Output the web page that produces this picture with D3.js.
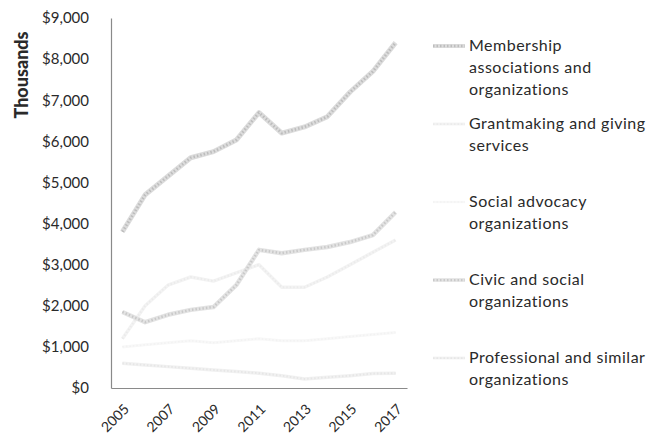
<!DOCTYPE html>
<html>
<head>
<meta charset="utf-8">
<script src="https://cdn.jsdelivr.net/npm/d3@7"></script>
<style>
  html, body { margin: 0; padding: 0; background: #fff; }
  svg { display: block; }
  text { font-family: "Lato", "Open Sans", sans-serif; fill: #2a2a2a; }
</style>
</head>
<body>
<svg id="chart" width="654" height="439"></svg>
<script>
// Revenue by organization type, in thousands of dollars
const years = [2005, 2006, 2007, 2008, 2009, 2010, 2011, 2012, 2013, 2014, 2015, 2016, 2017];
const membership   = [3800, 4700, 5150, 5600, 5750, 6030, 6700, 6200, 6350, 6600, 7200, 7700, 8400];
const grantmaking  = [1200, 2000, 2500, 2700, 2600, 2800, 3000, 2450, 2450, 2700, 3000, 3300, 3600];
const advocacy     = [1000, 1050, 1100, 1150, 1100, 1150, 1200, 1150, 1150, 1200, 1250, 1300, 1350];
const civic        = [1850, 1600, 1780, 1900, 1970, 2500, 3360, 3280, 3360, 3430, 3550, 3720, 4280];
const professional = [600, 560, 520, 480, 440, 400, 360, 300, 220, 260, 300, 350, 360];
const seriesNames = [
  ["Membership", "associations and", "organizations"],
  ["Grantmaking and giving", "services"],
  ["Social advocacy", "organizations"],
  ["Civic and social", "organizations"],
  ["Professional and similar", "organizations"]
];
const yTicks = [0, 1000, 2000, 3000, 4000, 5000, 6000, 7000, 8000, 9000];
const xTicks = [2005, 2007, 2009, 2011, 2013, 2015, 2017];

const series = [
  { values: membership,   base: "#dcdcdc", dots: "#bdbdbd", width: 5,   legendY: 46 },
  { values: grantmaking,  base: "#f3f3f3", dots: "#ebebeb", width: 3.5, legendY: 124 },
  { values: advocacy,     base: "#f8f8f8", dots: "#f2f2f2", width: 3,   legendY: 202 },
  { values: civic,        base: "#e3e3e3", dots: "#c9c9c9", width: 4.5, legendY: 280 },
  { values: professional, base: "#f1f1f1", dots: "#e6e6e6", width: 3.5, legendY: 358 }
];

const svg = d3.select("#chart");
const plot = { left: 111, right: 407, top: 18, bottom: 388 };

const x = d3.scalePoint().domain(years).range([plot.left, plot.right]).padding(0.5);
const y = d3.scaleLinear().domain([0, 9000]).range([plot.bottom, plot.top]);

// Y axis
const yAxis = svg.append("g")
  .attr("transform", `translate(${plot.left},0)`)
  .call(d3.axisLeft(y).tickValues(yTicks).tickSize(0).tickPadding(22)
        .tickFormat(d => "$" + d3.format(",")(d)));
yAxis.select(".domain").attr("stroke", "#8a8a8a").attr("stroke-width", 1.2);
yAxis.selectAll("text").style("font-size", "15px").attr("fill", "#2a2a2a");

// X axis
const xAxis = svg.append("g")
  .attr("transform", `translate(0,${plot.bottom})`)
  .call(d3.axisBottom(x).tickValues(xTicks).tickSize(0).tickPadding(0));
xAxis.select(".domain").attr("stroke", "#8a8a8a").attr("stroke-width", 1.2);
xAxis.selectAll("text")
  .style("font-size", "14px").attr("fill", "#2a2a2a")
  .attr("text-anchor", "end")
  .attr("dy", 0)
  .attr("transform", "translate(7,22) rotate(-45)");

// Axis title
svg.append("text")
  .attr("transform", "translate(28,75) rotate(-90)")
  .attr("text-anchor", "middle")
  .style("font-size", "18px").style("font-weight", "900")
  .attr("fill", "#2a2a2a")
  .text("Thousands");

// Lines: a soft base stroke with a speckled overlay
const line = d3.line().x((d, i) => x(years[i])).y(d => y(d));
series.forEach(s => {
  svg.append("path").datum(s.values)
    .attr("d", line).attr("fill", "none")
    .attr("stroke", s.base)
    .attr("stroke-width", s.width).attr("stroke-linejoin", "round");
  svg.append("path").datum(s.values)
    .attr("d", line).attr("fill", "none")
    .attr("stroke", s.dots).attr("stroke-width", s.width * 0.55)
    .attr("stroke-dasharray", "1.5 2").attr("stroke-linejoin", "round");
});

// Legend
const legend = svg.append("g");
series.forEach((s, i) => {
  legend.append("line")
    .attr("x1", 433).attr("x2", 465)
    .attr("y1", s.legendY).attr("y2", s.legendY)
    .attr("stroke", s.base).attr("stroke-width", s.width * 0.8);
  legend.append("line")
    .attr("x1", 433).attr("x2", 465)
    .attr("y1", s.legendY).attr("y2", s.legendY)
    .attr("stroke", s.dots).attr("stroke-width", s.width * 0.5)
    .attr("stroke-dasharray", "1.5 2");
  const t = legend.append("text")
    .attr("x", 469).attr("y", s.legendY + 5)
    .style("font-size", "16px").style("letter-spacing", "0.5px")
    .attr("fill", "#2a2a2a");
  seriesNames[i].forEach((ln, j) => {
    t.append("tspan").attr("x", 469).attr("dy", j === 0 ? 0 : 22).text(ln);
  });
});
</script>
</body>
</html>
